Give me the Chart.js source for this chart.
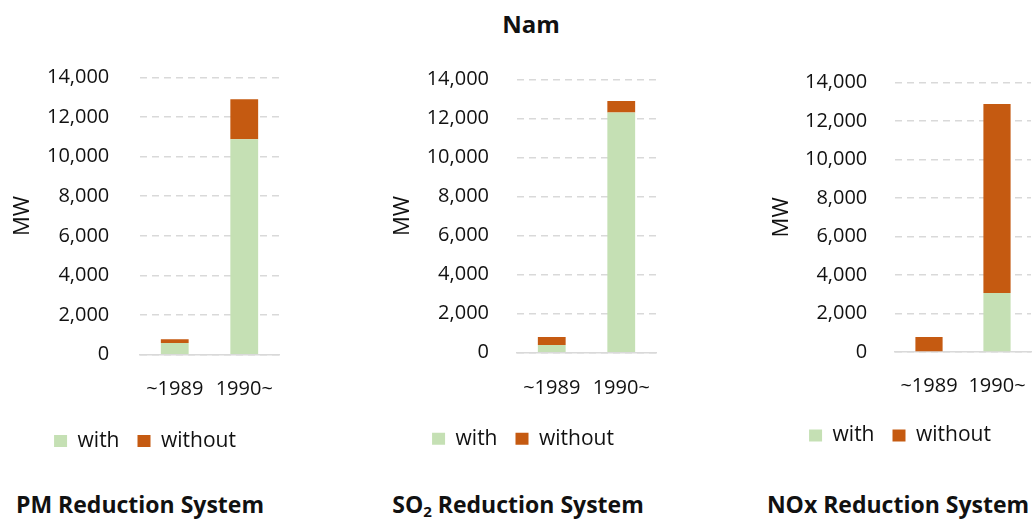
<!DOCTYPE html>
<html>
<head>
<meta charset="utf-8">
<script src="https://cdn.jsdelivr.net/npm/chart.js@4.4.1/dist/chart.umd.min.js"></script>
<style>
  html, body { margin: 0; padding: 0; background: #ffffff; }
  body { width: 1034px; height: 520px; overflow: hidden; position: relative;
         font-family: 'Open Sans', 'Noto Sans', sans-serif; color: #111111; }
  canvas { position: absolute; top: 0; }
  .main-title { position: absolute; left: 0; top: 10px; width: 1062px; text-align: center;
                font-size: 24px; font-weight: 700; line-height: 28px; }
  .panel-name { position: absolute; top: 491px; font-size: 23px; font-weight: 700;
                line-height: 26px; white-space: nowrap; transform: translateX(-50%); }
  .panel-name sub { font-size: 15px; vertical-align: -4px; line-height: 0; }
</style>
</head>
<body>
<div class="main-title">Nam</div>
<div class="panel-name" style="left:140px">PM Reduction System</div>
<div class="panel-name" style="left:518px">SO<sub>2</sub> Reduction System</div>
<div class="panel-name" style="left:898px">NOx Reduction System</div>
<canvas id="pm" width="290" height="480"></canvas>
<canvas id="so2" width="290" height="480"></canvas>
<canvas id="nox" width="290" height="480"></canvas>
<script>
// Installed capacity (MW) by commissioning period, split by whether the unit has the reduction system
const categories = ['~1989', '1990~'];
const seriesNames = ['with', 'without'];

const pmWith = [590, 10870];
const pmWithout = [190, 2020];

const so2With = [400, 12300];
const so2Without = [400, 590];

const noxWith = [0, 3070];
const noxWithout = [780, 9820];

const yMax = 14000;
const yStep = 2000;
const yTitle = 'MW';

const colorWith = '#C5E0B4';
const colorWithout = '#C55A11';
const textColor = '#111111';
const gridColor = '#D9D9D9';
const fontFamily = "'Open Sans', 'Noto Sans', sans-serif";

// Placement of each panel's canvas and plot box on the page
const panelLayout = {
  pm:  { left: 0,   plotTop: 77.3, plotBottom: 354.7, yWidth: 140, rightWidth: 11, tickPad: 30.7, titlePad: 9.3,  xPad: 23, xHeight: 57.8 },
  so2: { left: 378, plotTop: 79.3, plotBottom: 352.7, yWidth: 139, rightWidth: 12, tickPad: 28,   titlePad: 11.3, xPad: 24, xHeight: 57.5 },
  nox: { left: 755, plotTop: 82.7, plotBottom: 352,   yWidth: 140, rightWidth: 14, tickPad: 27.7, titlePad: 13.8, xPad: 22, xHeight: 55 }
};
const canvasHeight = 480;
const legendHeight = 49;

function buildPanel(id, withValues, withoutValues) {
  const lay = panelLayout[id];
  const canvas = document.getElementById(id);
  canvas.style.left = lay.left + 'px';
  const padBottom = canvasHeight - lay.plotBottom - lay.xHeight - legendHeight;

  return new Chart(canvas, {
    type: 'bar',
    data: {
      labels: categories,
      datasets: [
        { label: seriesNames[0], data: withValues, backgroundColor: colorWith, borderWidth: 0 },
        { label: seriesNames[1], data: withoutValues, backgroundColor: colorWithout, borderWidth: 0 }
      ]
    },
    options: {
      responsive: false,
      animation: false,
      devicePixelRatio: 1,
      locale: 'en-US',
      layout: { padding: { top: lay.plotTop, bottom: padBottom, left: 0, right: 0 } },
      datasets: { bar: { categoryPercentage: 0.8, barPercentage: 0.5 } },
      plugins: {
        legend: {
          position: 'bottom',
          labels: {
            boxWidth: 13, boxHeight: 12, padding: 18, color: textColor,
            font: { family: fontFamily, size: 21 }
          }
        },
        tooltip: { enabled: false },
        title: { display: false }
      },
      scales: {
        x: {
          stacked: true,
          grid: { display: false, drawTicks: false },
          border: { display: true, color: gridColor, width: 1.5 },
          ticks: { color: textColor, padding: lay.xPad, maxRotation: 0, font: { family: fontFamily, size: 20 } },
          afterFit: (s) => { s.height = lay.xHeight; s.paddingLeft = 0; s.paddingRight = 0; }
        },
        y: {
          stacked: true,
          min: 0, max: yMax,
          grid: { color: gridColor, lineWidth: 1.5, drawTicks: false },
          border: { display: false, dash: [7, 5] },
          ticks: {
            stepSize: yStep, padding: lay.tickPad, color: textColor,
            font: { family: fontFamily, size: 20 },
            callback: (v) => Number(v).toLocaleString('en-US')
          },
          title: {
            display: true, text: yTitle, color: textColor,
            padding: { top: lay.titlePad, bottom: 0 },
            font: { family: fontFamily, size: 22, lineHeight: 1.2 }
          },
          afterFit: (s) => { s.width = lay.yWidth; }
        },
        spacer: {
          position: 'right',
          grid: { display: false },
          border: { display: false },
          ticks: { display: false },
          afterFit: (s) => { s.width = lay.rightWidth; s.paddingTop = 0; s.paddingBottom = 0; }
        }
      }
    }
  });
}

buildPanel('pm', pmWith, pmWithout);
buildPanel('so2', so2With, so2Without);
buildPanel('nox', noxWith, noxWithout);
</script>
</body>
</html>
